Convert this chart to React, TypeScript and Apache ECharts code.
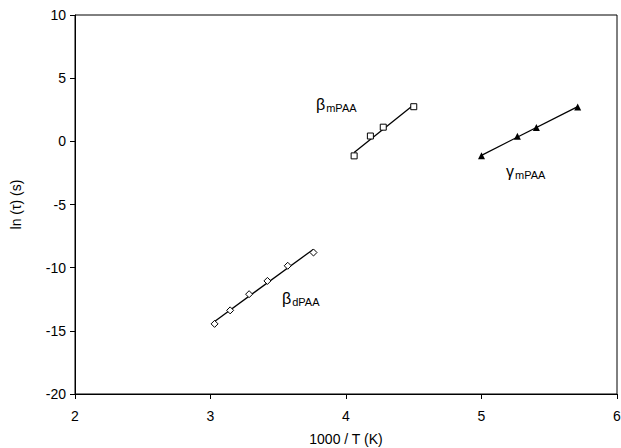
import React, { useEffect, useRef } from "react";
import * as echarts from "echarts";

const xTicks = [2, 3, 4, 5, 6];
const yTicks = [10, 5, 0, -5, -10, -15, -20];

const betaDPAA_x = [3.03, 3.145, 3.285, 3.42, 3.57, 3.76];
const betaDPAA_y = [-14.45, -13.38, -12.1, -11.05, -9.85, -8.8];

const betaMPAA_x = [4.06, 4.18, 4.275, 4.5];
const betaMPAA_y = [-1.15, 0.42, 1.12, 2.74];

const gammaMPAA_x = [5.0, 5.265, 5.405, 5.71];
const gammaMPAA_y = [-1.15, 0.4, 1.1, 2.72];

const FONT = "Liberation Sans, Arial, sans-serif";

function pairs(xs: number[], ys: number[]) {
  return xs.map((x, i) => [x, ys[i]]);
}

// least-squares fit line over the data range
function fitLine(xs: number[], ys: number[]) {
  const n = xs.length;
  const mx = xs.reduce((a, b) => a + b, 0) / n;
  const my = ys.reduce((a, b) => a + b, 0) / n;
  let sxy = 0;
  let sxx = 0;
  for (let i = 0; i < n; i++) {
    sxy += (xs[i] - mx) * (ys[i] - my);
    sxx += (xs[i] - mx) * (xs[i] - mx);
  }
  const k = sxy / sxx;
  const b = my - k * mx;
  const x0 = Math.min(...xs);
  const x1 = Math.max(...xs);
  return [
    [x0, k * x0 + b],
    [x1, k * x1 + b],
  ];
}

function label(text: string, left: number, top: number) {
  return {
    type: "text",
    left,
    top,
    style: {
      text,
      rich: {
        g: { fontSize: 16, fill: "#000", fontFamily: FONT },
        s: { fontSize: 11, fill: "#000", fontFamily: FONT, padding: [7, 0, 0, 1] },
      },
    },
  };
}

export default function App() {
  const ref = useRef<HTMLDivElement>(null);
  useEffect(() => {
    if (!ref.current) return;
    const chart = echarts.init(ref.current, undefined, { renderer: "svg" });
    const lineStyle = { color: "#000", width: 1.3 };
    const fitSeries = (xs: number[], ys: number[]) => ({
      type: "line",
      data: fitLine(xs, ys),
      symbol: "none",
      lineStyle,
      z: 1,
    });
    chart.setOption({
      animation: false,
      backgroundColor: "#fff",
      textStyle: { fontFamily: FONT },
      grid: {
        left: 75,
        right: 4,
        top: 15,
        bottom: 54,
        containLabel: false,
        outerBoundsMode: "none",
        show: true,
        borderColor: "#000",
        borderWidth: 1,
      },
      xAxis: {
        type: "value",
        min: xTicks[0],
        max: xTicks[xTicks.length - 1],
        interval: 1,
        name: "1000 / T (K)",
        nameLocation: "middle",
        nameGap: 38,
        nameTextStyle: { fontSize: 14, color: "#000", fontFamily: FONT },
        axisLine: { show: true, onZero: false, lineStyle: { color: "#000" } },
        axisTick: { show: true, length: 5, inside: false, lineStyle: { color: "#000" } },
        axisLabel: { fontSize: 14, color: "#000", margin: 15, fontFamily: FONT },
        splitLine: { show: false },
      },
      yAxis: {
        type: "value",
        min: yTicks[yTicks.length - 1],
        max: yTicks[0],
        interval: 5,
        name: "ln (τ) (s)",
        nameLocation: "middle",
        nameGap: 52,
        nameRotate: 90,
        nameTextStyle: { fontSize: 14, color: "#000", fontFamily: FONT },
        axisLine: { show: true, onZero: false, lineStyle: { color: "#000" } },
        axisTick: { show: true, length: 5, inside: false, lineStyle: { color: "#000" } },
        axisLabel: { fontSize: 14, color: "#000", margin: 9, fontFamily: FONT },
        splitLine: { show: false },
      },
      series: [
        fitSeries(betaDPAA_x, betaDPAA_y),
        fitSeries(betaMPAA_x, betaMPAA_y),
        fitSeries(gammaMPAA_x, gammaMPAA_y),
        {
          type: "scatter",
          data: pairs(betaDPAA_x, betaDPAA_y),
          symbol: "diamond",
          symbolSize: 7,
          itemStyle: { color: "#fff", borderColor: "#000", borderWidth: 1, opacity: 1 },
          z: 3,
        },
        {
          type: "scatter",
          data: pairs(betaMPAA_x, betaMPAA_y),
          symbol: "rect",
          symbolSize: 6,
          itemStyle: { color: "#fff", borderColor: "#000", borderWidth: 1, opacity: 1 },
          z: 3,
        },
        {
          type: "scatter",
          data: pairs(gammaMPAA_x, gammaMPAA_y),
          symbol: "triangle",
          symbolSize: 7,
          itemStyle: { color: "#000", opacity: 1 },
          z: 3,
        },
      ],
      graphic: [
        label("{g|β}{s|mPAA}", 316, 96),
        label("{g|γ}{s|mPAA}", 506, 163),
        label("{g|β}{s|dPAA}", 282, 290),
      ],
    });
    return () => chart.dispose();
  }, []);
  return (
    <div
      ref={ref}
      style={{ position: "fixed", left: 0, top: 0, width: 621, height: 448, background: "#fff" }}
    />
  );
}
